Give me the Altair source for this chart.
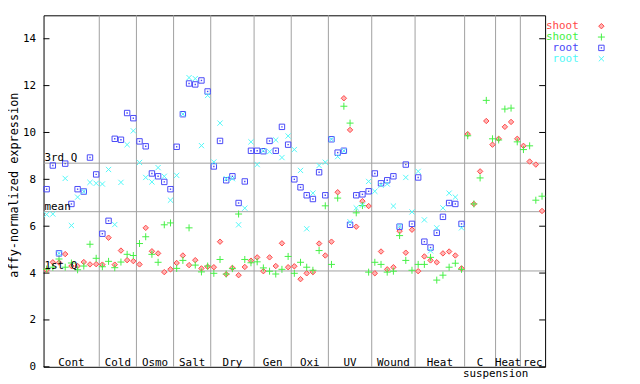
import altair as alt
import pandas as pd

# ---- data ----
groups = ["Cont", "Cold", "Osmo", "Salt", "Dry", "Gen", "Oxi", "UV", "Wound", "Heat", "C", "Heat", "rec"]
group_sizes = [9, 6, 6, 6, 7, 6, 6, 7, 7, 8, 5, 4, 4]
extra_label = "suspension"          # second line under "C"
y_title = "affy-normalized expression"

shoot_red = [4.13, 4.46, 4.45, 4.81, 4.30, 4.30, 4.47, 4.37, 4.38,
             4.36, 5.51, 4.36, 4.96, 4.55, 4.51,
             4.37, 5.93, 4.93, 4.84, 4.04, 4.16,
             4.43, 4.75, 4.34, 4.55, 4.20, 4.27,
             4.25, 5.34, 3.95, 4.22, 3.91, 4.26, 4.53,
             4.67, 4.08, 4.67, 4.30, 5.27, 4.25,
             4.29, 3.74, 3.99, 4.04, 5.26, 4.75,
             5.34, 7.45, 11.46, 10.11, 5.98, 7.07, 6.86,
             3.99, 4.92, 4.16, 4.25, 5.79, 4.87, 5.85,
             4.08, 4.71, 4.54, 4.46, 4.84, 4.92, 4.75, 4.20,
             9.93, 6.95, 8.34, 10.49, 9.48,
             9.73, 10.24, 10.45, 9.73,
             9.43, 8.76, 8.63, 6.65]
shoot_green = [4.17, 4.25, 4.60, 4.25, 4.43, 4.14, 4.30, 5.23, 4.63,
               4.27, 4.50, 4.23, 4.47, 4.80, 4.75,
               5.26, 5.55, 4.80, 4.46, 6.06, 6.14,
               4.20, 4.54, 5.93, 4.34, 4.05, 4.30,
               3.99, 4.58, 3.96, 4.19, 6.52, 4.58, 4.44,
               4.48, 4.22, 4.08, 3.96, 4.16, 4.71,
               3.99, 4.46, 4.25, 4.12, 4.96, 6.87,
               4.37, 7.20, 11.12, 10.40, 6.57, 6.88, 4.04,
               4.46, 4.37, 4.04, 4.08, 5.60, 4.54, 4.12,
               4.37, 4.37, 4.67, 3.70, 3.91, 4.25, 4.42, 4.16,
               9.86, 6.95, 8.06, 11.37, 9.73,
               9.68, 11.00, 11.04, 9.60,
               9.27, 9.43, 7.11, 7.28]
root_blue = [7.58, 8.59, 4.84, 8.67, 6.95, 7.58, 7.48, 8.93, 8.21,
             5.68, 6.23, 9.73, 9.69, 10.83, 10.61,
             9.62, 9.41, 8.25, 8.13, 7.89, 7.58,
             9.39, 10.78, 12.09, 12.05, 12.22, 11.75,
             8.55, 9.64, 7.96, 8.13, 6.99, 7.91, 9.22,
             9.22, 9.20, 9.64, 9.22, 10.24, 9.48,
             8.00, 7.66, 7.32, 7.16, 8.30, 7.32,
             9.71, 9.14, 9.22, 6.06, 7.32, 7.36, 7.49,
             8.25, 7.83, 7.96, 8.13, 5.98, 8.63, 6.10,
             8.08, 5.34, 5.09, 5.72, 6.40, 6.99, 6.95, 6.10]
root_cyan = [6.50, 6.52, 4.84, 8.04, 6.03, 7.24, 7.48, 7.87, 7.83,
             7.80, 8.42, 6.07, 7.87, 9.48, 10.07,
             8.72, 8.08, 7.89, 8.50, 8.13, 7.11,
             8.17, 10.78, 12.34, 12.30, 9.44, 11.58,
             8.74, 10.40, 8.03, 8.03, 6.06, 6.77, 9.60,
             8.63, 9.22, 9.18, 9.68, 8.93, 9.85,
             9.27, 8.38, 5.89, 7.41, 8.59, 8.73,
             9.71, 8.97, 9.22, 6.19, 6.78, 6.90, 7.91,
             7.49, 7.75, 7.80, 6.86, 6.00, 8.08, 6.61,
             8.34, 6.27, 4.95, 5.93, 6.78, 7.41, 7.24, 5.93]

quart_labels = ["3rd Q", "mean", "1st Q"]
quart_values = [8.69, 6.62, 4.09]
y_ticks = [0, 2, 4, 6, 8, 10, 12, 14]

series_names = ["shoot", "shoot", "root", "root"]
series_colors = ["#ff4848", "#44f044", "#4848f8", "#50f8f8"]
series_fills = ["#ffb4b4", None, None, None]
series_shapes = ["diamond", "M-1,0H1M0,-1V1", "square", "M-1,-1L1,1M-1,1L1,-1"]
series_sizes = [30, 50, 30, 28]
series_values = [shoot_red, shoot_green, root_blue, root_cyan]

# ---- derived tables ----
N = sum(group_sizes)
W, H = 508, 356
FONT = "DejaVu Sans Mono"
FS = 11
GRID = "#a0a0a0"

bounds, centers = [], []
acc = 0
for s in group_sizes:
    centers.append(acc + (s + 1) / 2)
    acc += s
    bounds.append(acc + 0.5)
bounds_df = pd.DataFrame({"b": bounds[:-1]})
groups_df = pd.DataFrame({"c": centers, "label": groups})
extra_df = pd.DataFrame({"c": [bounds[10]], "label": [extra_label]})
quart_df = pd.DataFrame({"v": quart_values, "label": quart_labels})
ticks_df = pd.DataFrame({"t": y_ticks})
title_df = pd.DataFrame({"label": [y_title]})

xs = alt.Scale(domain=[0.5, N + 0.5], nice=False, zero=False)
ys = alt.Scale(domain=[0, 15], nice=False, zero=False)
yaxis = alt.Axis(values=y_ticks, ticks=False, tickSize=0, domain=False, grid=False,
                 labelFont=FONT, labelFontSize=FS, labelColor="black", labelPadding=8,
                 title=None)


def Y(field):
    return alt.Y(field, scale=ys, axis=yaxis)


def X(field):
    return alt.X(field, scale=xs, axis=None)


layers = []
layers.append(alt.Chart(bounds_df).mark_rule(color=GRID, strokeWidth=1).encode(x=X("b:Q")))
layers.append(alt.Chart(quart_df).mark_rule(color=GRID, strokeWidth=1).encode(y=Y("v:Q")))
layers.append(alt.Chart(ticks_df).mark_rule(color="black").encode(
    y=Y("t:Q"), x=alt.value(0), x2=alt.value(6)))
layers.append(alt.Chart(ticks_df).mark_rule(color="black").encode(
    y=Y("t:Q"), x=alt.value(W - 6), x2=alt.value(W)))

for vals, col, fill, shp, sz in zip(series_values, series_colors, series_fills,
                                     series_shapes, series_sizes):
    df = pd.DataFrame({"i": list(range(1, len(vals) + 1)), "v": vals})
    kw = dict(shape=shp, size=sz, stroke=col, strokeWidth=1, opacity=1)
    if fill:
        m = alt.Chart(df).mark_point(filled=False, fill=fill, fillOpacity=1, **kw)
    else:
        m = alt.Chart(df).mark_point(filled=False, **kw)
    layers.append(m.encode(x=X("i:Q"), y=Y("v:Q")))
    if shp == "square":
        layers.append(alt.Chart(df).mark_point(shape="square", size=2, filled=True,
                                               color=col, opacity=1)
                      .encode(x=X("i:Q"), y=Y("v:Q")))

layers.append(alt.Chart(quart_df).mark_text(align="left", baseline="bottom", dx=1, dy=0,
                                            font=FONT, fontSize=FS, color="black")
              .encode(x=alt.value(0), y=Y("v:Q"), text="label:N"))
layers.append(alt.Chart(groups_df).mark_text(align="center", baseline="alphabetic",
                                             font=FONT, fontSize=FS, color="black")
              .encode(x=X("c:Q"), y=alt.value(H - 1), text="label:N"))
layers.append(alt.Chart(extra_df).mark_text(align="center", baseline="alphabetic",
                                            font=FONT, fontSize=FS, color="black")
              .encode(x=X("c:Q"), y=alt.value(H + 10), text="label:N"))
# y-axis title as rotated text
layers.append(alt.Chart(title_df).mark_text(align="center", baseline="middle", angle=270,
                                            font=FONT, fontSize=12, color="black")
              .encode(x=alt.value(-30), y=alt.value(172), text="label:N"))

# manual legend: coloured label, symbol on the right
for k, (name, col, fill, shp, sz) in enumerate(zip(series_names, series_colors, series_fills,
                                                    series_shapes, series_sizes)):
    ldf = pd.DataFrame({"label": [name]})
    yk = 11 + 11 * k
    layers.append(alt.Chart(ldf).mark_text(align="right", baseline="middle", font=FONT,
                                           fontSize=FS, color=col)
                  .encode(x=alt.value(W + 34), y=alt.value(yk), text="label:N"))
    kw = dict(shape=shp, size=sz, stroke=col, strokeWidth=1, opacity=1)
    if fill:
        pm = alt.Chart(ldf).mark_point(filled=False, fill=fill, fillOpacity=1, **kw)
    else:
        pm = alt.Chart(ldf).mark_point(filled=False, **kw)
    layers.append(pm.encode(x=alt.value(W + 57), y=alt.value(yk)))
    if shp == "square":
        layers.append(alt.Chart(ldf).mark_point(shape="square", size=2, filled=True,
                                                color=col, opacity=1)
                      .encode(x=alt.value(W + 57), y=alt.value(yk)))

chart = alt.layer(*layers).properties(
    width=W, height=H,
    autosize=alt.AutoSizeParams(type="none"),
    padding={"left": 36, "top": 5, "right": 88, "bottom": 14},
    background="white",
).configure_view(stroke="black", strokeWidth=1)

chart.save("out.html", embed_options={"renderer": "svg", "actions": False})
